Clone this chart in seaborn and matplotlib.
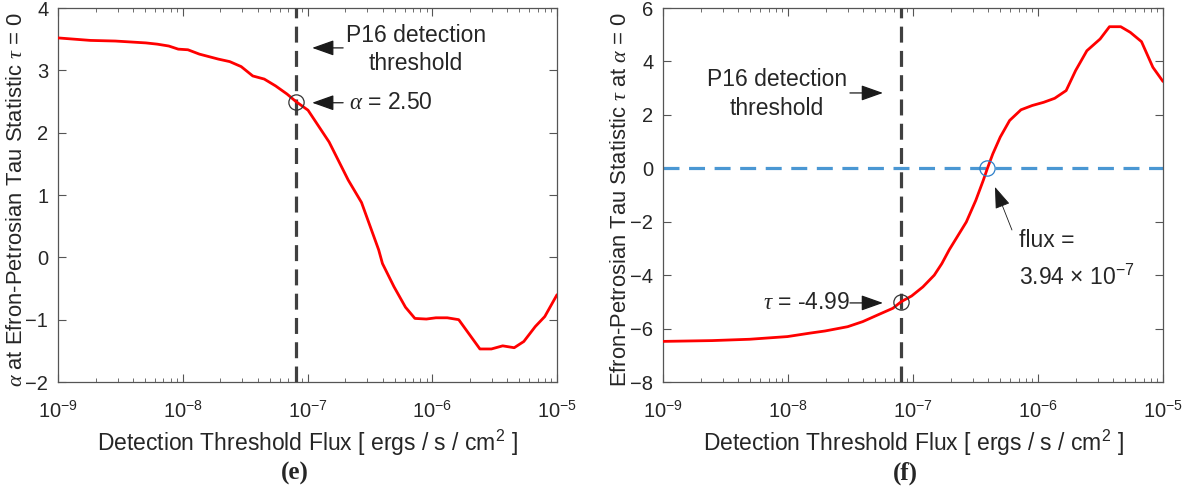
import numpy as np
import pandas as pd
import matplotlib
matplotlib.use("Agg")
import matplotlib.pyplot as plt
import seaborn as sns
from matplotlib.ticker import LogLocator, NullFormatter

# ---- panel (e): alpha at Efron-Petrosian tau = 0 vs threshold flux ----
flux_e = [1.0e-9, 1.82e-9, 2.88e-9, 5.06e-9, 6.25e-9, 7.73e-9, 9.2e-9,
          1.10e-8, 1.36e-8, 1.93e-8, 2.38e-8, 2.94e-8, 3.64e-8, 4.50e-8,
          5.55e-8, 6.85e-8, 8.07e-8, 1.01e-7, 1.49e-7, 2.12e-7, 2.71e-7,
          3.72e-7, 3.99e-7, 4.93e-7, 6.10e-7, 7.26e-7, 8.97e-7, 1.07e-6,
          1.32e-6, 1.63e-6, 2.41e-6, 2.98e-6, 3.67e-6, 4.54e-6, 5.42e-6,
          6.70e-6, 7.98e-6, 1.0e-5]
alpha_e = [3.52, 3.48, 3.47, 3.44, 3.42, 3.39, 3.34,
           3.33, 3.26, 3.18, 3.14, 3.06, 2.91, 2.86,
           2.75, 2.62, 2.50, 2.36, 1.85, 1.24, 0.88,
           0.12, -0.10, -0.47, -0.80, -0.98, -0.99, -0.97,
           -0.97, -1.00, -1.47, -1.47, -1.42, -1.45, -1.35,
           -1.11, -0.95, -0.60]

# ---- panel (f): tau at alpha = 0 vs threshold flux ----
flux_f = [1.0e-9, 2.47e-9, 4.93e-9, 9.89e-9, 1.50e-8, 1.98e-8, 3.00e-8,
          3.96e-8, 5.22e-8, 6.90e-8, 8.07e-8, 9.75e-8, 1.20e-7, 1.48e-7,
          1.70e-7, 1.95e-7, 2.67e-7, 3.18e-7, 3.65e-7, 3.94e-7, 4.35e-7,
          4.99e-7, 5.93e-7, 7.31e-7, 8.99e-7, 1.11e-6, 1.36e-6, 1.68e-6,
          2.00e-6, 2.46e-6, 3.14e-6, 3.73e-6, 4.59e-6, 5.47e-6, 6.73e-6,
          8.30e-6, 1.0e-5]
tau_f = [-6.48, -6.45, -6.40, -6.30, -6.17, -6.09, -5.93,
         -5.74, -5.49, -5.24, -4.99, -4.78, -4.44, -4.00,
         -3.57, -3.05, -2.01, -1.20, -0.45, 0.0, 0.54,
         1.17, 1.79, 2.19, 2.35, 2.47, 2.62, 2.91,
         3.66, 4.40, 4.84, 5.30, 5.30, 5.09, 4.74,
         3.78, 3.25]

p16_flux = 8.07e-8
alpha_p16 = 2.50
tau_p16 = -4.99
flux_zero = 3.94e-7

xticks = [1e-9, 1e-8, 1e-7, 1e-6, 1e-5]
yticks_e = [-2, -1, 0, 1, 2, 3, 4]
yticks_f = [-8, -6, -4, -2, 0, 2, 4, 6]

df_e = pd.DataFrame({"flux": flux_e, "alpha": alpha_e})
df_f = pd.DataFrame({"flux": flux_f, "tau": tau_f})

sns.set_theme(style="ticks")
plt.rcParams["font.family"] = ["Liberation Sans", "DejaVu Sans"]
plt.rcParams["mathtext.fontset"] = "custom"
plt.rcParams["mathtext.rm"] = "Liberation Sans"
plt.rcParams["mathtext.it"] = "Liberation Serif:italic"
plt.rcParams["mathtext.default"] = "regular"

txt = "#262626"
fs = 16.5
fig = plt.figure(figsize=(11.9, 4.97), dpi=100)
ax1 = fig.add_axes([58/1190, 1-382/497, 499/1190, 374/497])
ax2 = fig.add_axes([663/1190, 1-382/497, 500/1190, 374/497])

arrow = dict(arrowstyle="-|>,head_length=0.9,head_width=0.32", color="k",
             lw=0.9, shrinkA=0, shrinkB=0, mutation_scale=15)


def style_axis(ax, yticks, ylabel):
    ax.set_xscale("log")
    ax.set_xlim(1e-9, 1e-5)
    ax.set_ylim(yticks[0], yticks[-1])
    ax.set_xticks(xticks)
    ax.set_yticks(yticks)
    ax.xaxis.set_minor_locator(LogLocator(base=10, subs=np.arange(2, 10)))
    ax.xaxis.set_minor_formatter(NullFormatter())
    ax.tick_params(which="both", direction="in", top=True, right=True,
                   colors="#555555", labelcolor=txt, labelsize=14.5)
    ax.tick_params(which="major", length=6, width=0.8)
    ax.tick_params(which="minor", length=3, width=0.6)
    ax.tick_params(axis="x", pad=13)
    ax.tick_params(axis="y", pad=7)
    for s in ax.spines.values():
        s.set_color("#555555")
        s.set_linewidth(0.9)
    ax.set_xlabel("Detection Threshold Flux [ ergs / s / cm$^2$ ]",
                  fontsize=fs, color=txt, labelpad=4)
    ax.set_ylabel(ylabel, fontsize=15.8, color=txt, va="center")
    ax.yaxis.set_label_coords(-0.084, 0.487)
    ax.axvline(p16_flux, color="#404040", lw=2.3, dashes=(5, 2.6), zorder=3)


# (e)
sns.lineplot(data=df_e, x="flux", y="alpha", ax=ax1, color="red", lw=2, zorder=4)
style_axis(ax1, yticks_e,
           r"$\mathit{\alpha}$ at Efron-Petrosian Tau Statistic $\mathit{\tau}$ = 0")
ax1.plot([p16_flux], [alpha_p16], marker="o", ms=11, mfc="none", mec="#333333",
         mew=0.9, zorder=5)
ax1.text(7.4e-7, 3.33, "P16 detection\nthreshold", fontsize=fs, ha="center",
         va="center", linespacing=1.3)
ax1.annotate("", xy=(1.09e-7, 3.36), xytext=(1.93e-7, 3.36), arrowprops=arrow)
ax1.text(2.15e-7, 2.48, r"$\mathit{\alpha}$ = 2.50", fontsize=fs, ha="left", va="center")
ax1.annotate("", xy=(1.09e-7, 2.48), xytext=(1.93e-7, 2.48), arrowprops=arrow)

# (f)
sns.lineplot(data=df_f, x="flux", y="tau", ax=ax2, color="red", lw=2, zorder=4)
style_axis(ax2, yticks_f,
           r"Efron-Petrosian Tau Statistic $\mathit{\tau}$ at $\mathit{\alpha}$ = 0")
ax2.axhline(0, color="#4a97d3", lw=2.3, dashes=(5, 3), zorder=2)
ax2.plot([p16_flux], [tau_p16], marker="o", ms=11, mfc="none", mec="#333333",
         mew=0.9, zorder=5)
ax2.plot([flux_zero], [0], marker="o", ms=11, mfc="none", mec="#2c7fc9",
         mew=0.9, zorder=5)
ax2.text(8.17e-9, 2.78, "P16 detection\nthreshold", fontsize=fs, ha="center",
         va="center", linespacing=1.3)
ax2.annotate("", xy=(5.75e-8, 2.82), xytext=(3.13e-8, 2.82), arrowprops=arrow)
ax2.text(3.13e-8, -5.04, r"$\mathit{\tau}$ = -4.99", fontsize=fs, ha="right", va="center")
ax2.annotate("", xy=(5.75e-8, -5.04), xytext=(3.13e-8, -5.04), arrowprops=arrow)
ax2.annotate("", xy=(4.53e-7, -0.70), xytext=(6.19e-7, -2.31),
             arrowprops=dict(arrow, lw=0.6))
ax2.text(7.05e-7, -2.69, "flux =", fontsize=fs, ha="left", va="center")
ax2.text(7.05e-7, -4.07, r"3.94 $\times$ 10$^{-7}$", fontsize=fs, ha="left", va="center")

fig.text(295/1190, 1-473/497, "(e)", fontsize=18, fontweight="bold",
         family="Liberation Serif", ha="center", va="center")
fig.text(905/1190, 1-473/497, "(f)", fontsize=18, fontweight="bold",
         family="Liberation Serif", ha="center", va="center")

fig.savefig("out.png", dpi=100)
